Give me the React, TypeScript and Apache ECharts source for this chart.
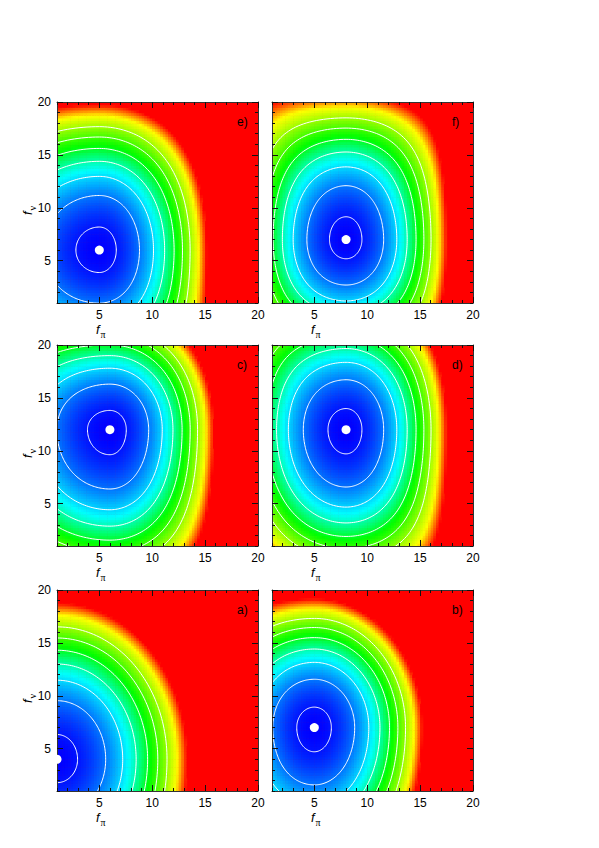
import { useEffect, useRef } from 'react';
import * as echarts from 'echarts';

// ---- data ----
const panelLabels = ['e)', 'f)', 'c)', 'd)', 'a)', 'b)'];
const minimumX = [5, 8, 6, 8, 1, 5];
const minimumY = [6, 7, 12, 12, 4, 7];
// distance from the minimum (axis units) at which the colour saturates to red
const reachLeft = [14, 9.9, 13.4, 10.8, 14, 10.5];
const reachRight = [10.15, 9.5, 9.8, 9.5, 12.3, 10.2];
const reachDown = [13.4, 11.5, 15, 14.5, 14, 14.5];
const reachUp = [13.8, 13.6, 11.5, 12.6, 14.8, 12.2];
// flattening of the iso-lines in each quadrant (upper-left, upper-right, lower-left, lower-right)
const flatUL = [0.5, 0.9, 1, 1, 0.5, 0.5];
const flatUR = [0.35, 0.7, 0.25, 0.4, 0, 0];
const flatLL = [0.5, 0.8, 0.5, 0.38, 0.5, 1];
const flatLR = [0.85, 0.7, 0.6, 0.75, 0.5, 0.3];
const contourLevels = [0.025, 0.14, 0.255, 0.37, 0.485, 0.6, 0.715];
const axisMin = 1;
const axisMax = 20;
const majorTicks = [5, 10, 15, 20];
const minorTicks = [1, 2, 3, 4, 5, 6, 7, 8, 9, 10, 11, 12, 13, 14, 15, 16, 17, 18, 19, 20];
const xSub = 'π';
const ySub = 'ν';

// ---- layout ----
const PANEL_LEFT = [57, 272, 57, 272, 57, 272];
const PANEL_TOP = [102, 102, 345, 345, 590, 590];
const PANEL_SIZE = 201;
const STEP = 0.25;
const FONT = '"Liberation Sans", Arial, Helvetica, sans-serif';

const STOPS: [number, number[]][] = [
  [0, [0, 0, 255]],
  [0.3, [0, 255, 255]],
  [0.52, [0, 255, 0]],
  [0.85, [255, 255, 0]],
  [1, [255, 0, 0]],
];

function colorOf(v: number): string {
  if (v <= 0) return 'rgb(0,0,255)';
  if (v >= 1) return 'rgb(255,0,0)';
  for (let k = 1; k < STOPS.length; k++) {
    const [p1, c1] = STOPS[k];
    const [p0, c0] = STOPS[k - 1];
    if (v <= p1) {
      const t = (v - p0) / (p1 - p0);
      const c = c0.map((a, j) => Math.round(a + (c1[j] - a) * t));
      return `rgb(${c[0]},${c[1]},${c[2]})`;
    }
  }
  return 'rgb(255,0,0)';
}

function quadrant(i: number, right: boolean, up: boolean) {
  const rx = right ? reachRight[i] : reachLeft[i];
  const ry = up ? reachUp[i] : reachDown[i];
  const c = up ? (right ? flatUR[i] : flatUL[i]) : right ? flatLR[i] : flatLL[i];
  return { rx, ry, c };
}

function fieldValue(i: number, x: number, y: number): number {
  const dx = x - minimumX[i];
  const dy = y - minimumY[i];
  const { rx, ry, c } = quadrant(i, dx >= 0, dy >= 0);
  const a = (dx / rx) ** 2;
  const b = (dy / ry) ** 2;
  return a + b - c * a * b;
}

function cellsOf(i: number): number[][] {
  const out: number[][] = [];
  const n = Math.round((axisMax - axisMin) / STEP);
  for (let a = 0; a < n; a++) {
    for (let b = 0; b < n; b++) {
      const x = axisMin + (a + 0.5) * STEP;
      const y = axisMin + (b + 0.5) * STEP;
      const v = fieldValue(i, x, y);
      if (v < 1.02) out.push([x, y, v]);
    }
  }
  return out;
}

function contourOf(i: number, level: number): number[][] {
  const pts: number[][] = [];
  const N = 240;
  for (let t = 0; t <= N; t++) {
    const ang = (2 * Math.PI * t) / N;
    const cs = Math.cos(ang);
    const sn = Math.sin(ang);
    const { rx, ry, c } = quadrant(i, cs >= 0, sn >= 0);
    const b = level * sn * sn;
    const a = Math.max(0, (level - b) / (1 - c * b));
    const dx = Math.sign(cs) * rx * Math.sqrt(a);
    const dy = Math.sign(sn) * ry * Math.sqrt(b);
    pts.push([minimumX[i] + dx, minimumY[i] + dy]);
  }
  return pts;
}

function buildOption() {
  const grids: any[] = [];
  const xAxes: any[] = [];
  const yAxes: any[] = [];
  const series: any[] = [];
  const graphics: any[] = [];
  const tickStyle = { color: '#111', width: 1 };
  const lineStyle = { color: '#333', width: 1 };

  for (let i = 0; i < 6; i++) {
    const col = i % 2;
    grids.push({
      left: PANEL_LEFT[i],
      top: PANEL_TOP[i],
      width: PANEL_SIZE,
      height: PANEL_SIZE,
      show: true,
      backgroundColor: '#ff0000',
      borderWidth: 0,
      containLabel: false,
    });
    const common = {
      type: 'value',
      gridIndex: i,
      min: axisMin,
      max: axisMax,
      splitLine: { show: false },
      z: 10,
    };
    const major = (pos: string, labels: boolean) => ({
      ...common,
      position: pos,
      axisLine: { show: true, onZero: false, lineStyle },
      axisTick: { show: true, inside: true, length: 6, customValues: majorTicks, lineStyle: tickStyle },
      axisLabel: labels
        ? { show: true, customValues: majorTicks, fontSize: 12, lineHeight: 12, color: '#000', margin: 6, fontFamily: FONT }
        : { show: false },
    });
    const minor = (pos: string) => ({
      ...common,
      position: pos,
      axisLine: { show: false, onZero: false },
      axisTick: { show: true, inside: true, length: 3, customValues: minorTicks, lineStyle: tickStyle },
      axisLabel: { show: false },
    });
    xAxes.push(major('bottom', true), minor('bottom'), major('top', false), minor('top'));
    yAxes.push(major('left', col === 0), minor('left'), major('right', false), minor('right'));

    const ax = i * 4;
    series.push({
      type: 'custom',
      xAxisIndex: ax,
      yAxisIndex: ax,
      silent: true,
      z: 1,
      progressive: 0,
      encode: { x: 0, y: 1 },
      data: cellsOf(i),
      renderItem: (_params: any, api: any) => {
        const x = api.value(0);
        const y = api.value(1);
        const v = api.value(2);
        const p0 = api.coord([x - STEP / 2, y + STEP / 2]);
        const p1 = api.coord([x + STEP / 2, y - STEP / 2]);
        return {
          type: 'rect',
          shape: { x: p0[0], y: p0[1], width: p1[0] - p0[0] + 0.6, height: p1[1] - p0[1] + 0.6 },
          style: { fill: colorOf(v), stroke: null },
        };
      },
    });
    contourLevels.forEach((lv) => {
      series.push({
        type: 'line',
        xAxisIndex: ax,
        yAxisIndex: ax,
        data: contourOf(i, lv),
        symbol: 'none',
        clip: true,
        silent: true,
        z: 3,
        lineStyle: { color: '#ffffff', width: 1 },
      });
    });
    series.push({
      type: 'scatter',
      xAxisIndex: ax,
      yAxisIndex: ax,
      data: [[minimumX[i], minimumY[i]]],
      symbol: 'circle',
      symbolSize: 9,
      clip: false,
      silent: true,
      z: 20,
      itemStyle: { color: '#ffffff', opacity: 1 },
    });

    graphics.push({
      type: 'text',
      x: PANEL_LEFT[i] + 180,
      y: PANEL_TOP[i] + 19.5,
      z: 100,
      style: { text: panelLabels[i], fontSize: 12, fontFamily: FONT, fill: '#000', verticalAlign: 'middle' },
    });
    const rich = {
      f: { fontFamily: FONT, fontStyle: 'italic', fontSize: 13, lineHeight: 13, fill: '#000', verticalAlign: 'top' },
      s: { fontFamily: '"Liberation Serif", serif', fontSize: 10, lineHeight: 10, fill: '#000', padding: [6, 0, 0, 1], verticalAlign: 'top' },
    };
    graphics.push({
      type: 'text',
      x: PANEL_LEFT[i] + 39,
      y: PANEL_TOP[i] + PANEL_SIZE + 20,
      z: 100,
      style: { text: '{f|f}{s|' + xSub + '}', rich, verticalAlign: 'top', fill: '#000' },
    });
    if (col === 0) {
      graphics.push({
        type: 'text',
        x: 21,
        y: PANEL_TOP[i] + 113,
        rotation: Math.PI / 2,
        z: 100,
        style: { text: '{f|f}{s|' + ySub + '}', rich, verticalAlign: 'top', fill: '#000' },
      });
    }
  }

  return {
    animation: false,
    backgroundColor: '#ffffff',
    grid: grids,
    xAxis: xAxes,
    yAxis: yAxes,
    series,
    graphic: { elements: graphics },
  };
}

export default function App() {
  const ref = useRef<HTMLDivElement>(null);
  useEffect(() => {
    if (!ref.current) return;
    const chart = echarts.init(ref.current, undefined, { renderer: 'svg' });
    chart.setOption(buildOption() as any);
    return () => chart.dispose();
  }, []);
  return <div ref={ref} style={{ position: 'absolute', left: 0, top: 0, width: 599, height: 848 }} />;
}
